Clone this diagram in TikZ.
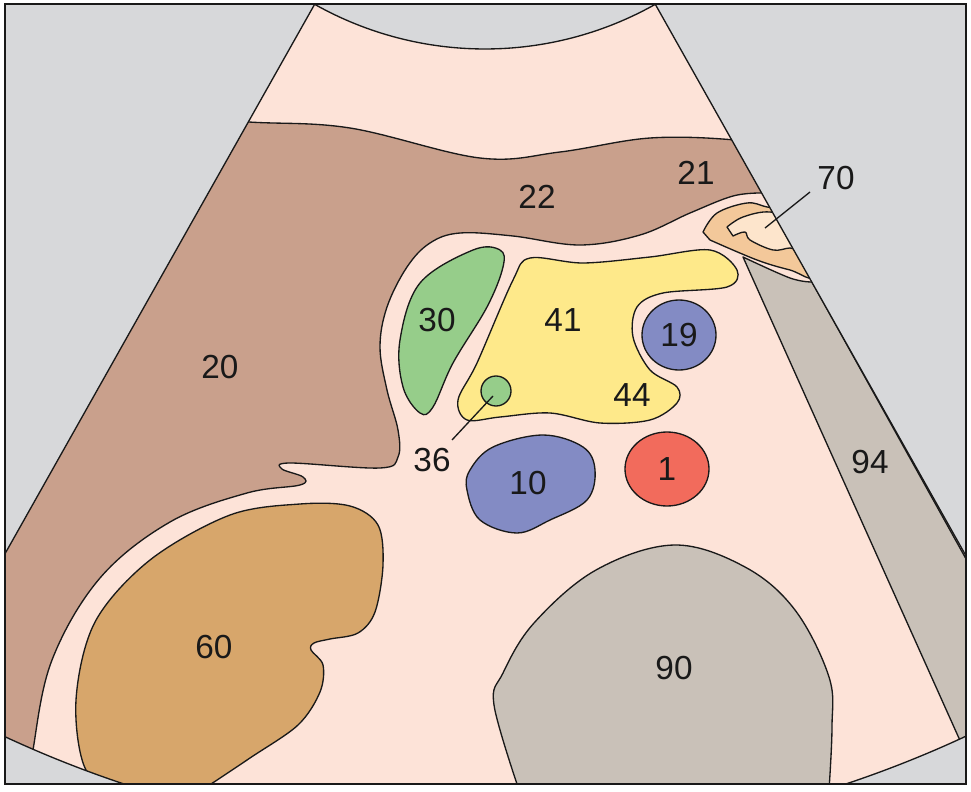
\documentclass[tikz,border=0pt]{standalone}
\usepackage{fontspec}
\setmainfont{Liberation Sans}
\definecolor{tissue}{HTML}{FDE3D8}
\definecolor{liver}{HTML}{C9A08C}
\definecolor{gallb}{HTML}{96CD8A}
\definecolor{panc}{HTML}{FEE98A}
\definecolor{vein}{HTML}{838BC4}
\definecolor{artery}{HTML}{F26B5C}
\definecolor{kidney}{HTML}{D7A66B}
\definecolor{spine}{HTML}{C9C1B8}
\definecolor{outside}{HTML}{D7D8DA}
\definecolor{gut}{HTML}{F3C89A}
\definecolor{gutin}{HTML}{FDE5CC}
\begin{document}
\begin{tikzpicture}[x=0.75pt,y=-0.75pt]
    \tikzset{organ/.style = {draw=black!90, line width=1pt, line join=round}}
    \tikzset{num/.style = {font=\fontsize{25}{25}\selectfont, text=black!90, inner sep=1pt}}
    \tikzset{leader/.style = {draw=black!90, line width=1pt}}

    \useasboundingbox (0,0) rectangle (971,792);
    \fill[outside] (5,4) rectangle (966,784);

    % fan
    \def\fan{(-75,695.7) arc[start angle=119.4, end angle=60.6, radius=1140.6]
        -- (655.3,4.3) arc[start angle=60.6, end angle=119.4, radius=347] -- cycle}
    \begin{scope}
    \clip (5,4) rectangle (966,784);
    \fill[tissue] \fan;
    \begin{scope}
    \clip \fan;

    % liver
    \draw[organ, fill=liver] plot[smooth, tension=0.6] coordinates {(150,115) (249,122) (350,128)
        (480,158) (560,152) (650,138) (735,140) (790,150)} -- (800,190)
        -- plot[smooth, tension=0.6] coordinates {(762,193) (733,196) (690,213) (640,235) (580,245)
        (513,236) (460,233) (430,243) (407,267) (387,307) (380,347) (387,390) (398,430) (398,457)
        (380,468) (290,463) (282,469) (303,477) (300,485) (247,493) (170,522) (100,578)
        (52,660) (33,750) (28,800)} -- (-20,800) -- (-20,115) -- cycle;

    % bowel
    \draw[organ, fill=gut] plot[smooth, tension=0.6] coordinates {(703,232) (717,213) (747,203)
        (767,207) (800,215) (815,275) (790,270) (757,260) (710,240)} -- cycle;
    \draw[organ, fill=gutin] plot[smooth, tension=0.6] coordinates {(727,227) (743,217) (770,212)
        (800,222) (805,250) (790,248) (773,250) (750,240) (745,232) (733,236)} -- cycle;

    % spine and crus
    \draw[organ, fill=spine] plot[smooth, tension=0.6] coordinates {(743,257) (790,278) (812,282)}
        -- (1000,620) -- (971,765) -- cycle;
    \draw[organ, fill=spine] plot[smooth, tension=0.6] coordinates {(519,790) (494,705) (503,673)
        (534,623) (596,570) (674,545) (745,567) (795,610) (829,677) (832,727) (829,790)} -- cycle;

    % kidney
    \draw[organ, fill=kidney] plot[smooth, tension=0.55] coordinates {(124,790) (86,770) (76,700)
        (95,622) (150,560) (230,515) (300,504) (350,506) (378,525) (383,565) (375,612)
        (358,633) (330,639) (314,643) (311,650) (323,665) (320,692) (298,725) (250,758) (202,790)}
        -- cycle;
    \end{scope}
    \draw[organ] \fan;
    \end{scope}

    % gallbladder
    \draw[organ, fill=gallb] plot[smooth cycle, tension=0.6] coordinates {(500,250) (473,250)
        (420,283) (400,340) (403,387) (420,413) (433,407) (453,363) (487,307) (503,267)};

    % pancreas
    \draw[organ, fill=panc] plot[smooth cycle, tension=0.55] coordinates {(530,258) (583,263)
        (650,257) (710,250) (737,270) (727,287) (663,293) (637,307) (633,337) (650,370) (677,387)
        (677,403) (650,420) (600,423) (550,413) (500,417) (467,420) (458,400) (477,363) (513,280)};

    % vessels
    \draw[organ, fill=gallb] (496,391) circle[radius=15];
    \draw[organ, fill=vein] (679,335) ellipse[x radius=37, y radius=35];
    \draw[organ, fill=artery] (667,469) ellipse[x radius=42, y radius=37];
    \draw[organ, fill=vein] plot[smooth cycle, tension=0.6] coordinates {(470,470) (493,447)
        (543,435) (583,447) (595,470) (587,500) (550,520) (517,533) (480,520) (467,490)};

    % outline
    \draw[line width=1pt, black!90] (5,4) rectangle (966,784);

    % labels
    \node[num] (n20) at (220,367) {20};
    \node[num] (n22) at (537,197) {22};
    \node[num] (n21) at (696,173) {21};
    \node[num] (n70) at (836,178) {70};
    \node[num] (n30) at (437,320) {30};
    \node[num] (n41) at (563,320) {41};
    \node[num] (n19) at (679,335) {19};
    \node[num] (n44) at (632,395) {44};
    \node[num] (n36) at (432,460) {36};
    \node[num] (n10) at (528,483) {10};
    \node[num] (n1)  at (667,469) {1};
    \node[num] (n94) at (870,462) {94};
    \node[num] (n60) at (214,647) {60};
    \node[num] (n90) at (674,668) {90};

    % leaders
    \coordinate (p36) at (493,396);
    \coordinate (p70) at (765,228);
    \draw[leader] (452,440) -- (p36);
    \draw[leader] (810,192) -- (p70);
\end{tikzpicture}
\end{document}
